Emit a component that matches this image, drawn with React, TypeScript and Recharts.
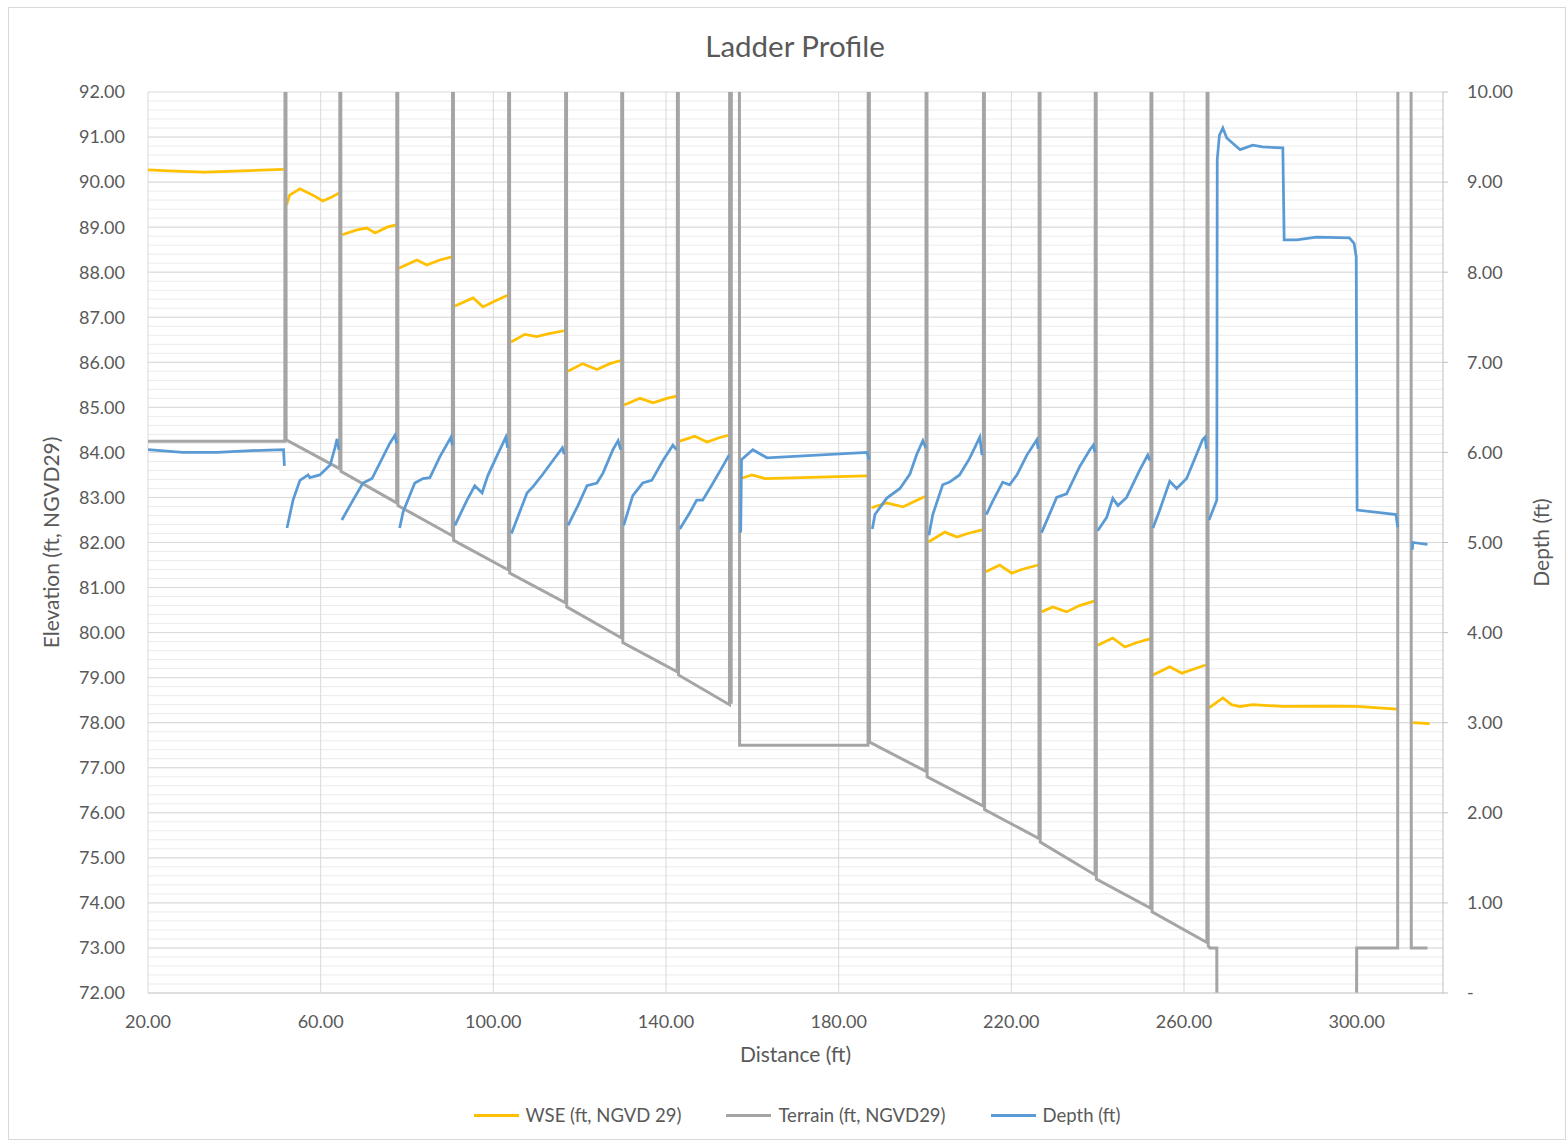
import { LineChart, Line, XAxis, YAxis, CartesianGrid } from 'recharts'

const FONT = 'Lato, "Liberation Sans", sans-serif'
const TEXT = '#595959'

const xTicks = [20, 60, 100, 140, 180, 220, 260, 300]
const elevTicks = [72, 73, 74, 75, 76, 77, 78, 79, 80, 81, 82, 83, 84, 85, 86, 87, 88, 89, 90, 91, 92]
const depthTicks = [0, 1, 2, 3, 4, 5, 6, 7, 8, 9, 10]

const seriesNames = ['WSE (ft, NGVD 29)', 'Terrain (ft, NGVD29)', 'Depth (ft)']
const seriesColors = ['#ffc000', '#a5a5a5', '#5b9bd5']

// [distance, elevation]; weir walls run off the top of the axis
const terrainPts: [number, number][] = [
  [20, 84.25], [51.7, 84.25], [51.75, 95], [51.95, 95], [52.0, 84.28],
  [64.4, 83.64], [64.45, 95], [64.65, 95], [64.7, 83.58],
  [77.6, 82.88], [77.65, 95], [77.85, 95], [77.9, 82.82],
  [90.5, 82.15], [90.55, 95], [90.75, 95], [90.8, 82.05],
  [103.5, 81.39], [103.55, 95], [103.75, 95], [103.8, 81.32],
  [116.7, 80.66], [116.75, 95], [116.95, 95], [117.0, 80.57],
  [129.7, 79.88], [129.75, 95], [129.95, 95], [130.0, 79.78],
  [142.6, 79.13], [142.65, 95], [142.85, 95], [142.9, 79.06],
  [154.7, 78.4], [154.75, 95], [155.05, 95], [155.1, 78.42], [155.15, 95], [157.0, 95], [157.05, 77.5],
  [186.8, 77.5], [186.85, 95], [187.1, 95], [187.15, 77.57],
  [200.2, 76.92], [200.25, 95], [200.45, 95], [200.5, 76.8],
  [213.5, 76.15], [213.55, 95], [213.75, 95], [213.8, 76.07],
  [226.4, 75.43], [226.45, 95], [226.65, 95], [226.7, 75.35],
  [239.4, 74.62], [239.45, 95], [239.65, 95], [239.7, 74.53],
  [252.3, 73.88], [252.35, 95], [252.55, 95], [252.6, 73.8],
  [265.3, 73.12], [265.35, 95], [265.55, 95], [265.6, 73.05],
  [266.0, 73.0], [267.6, 73.0], [267.65, 69.0], [299.95, 69.0], [300.0, 73.0],
  [309.5, 73.0], [309.55, 95], [312.6, 95], [312.65, 73.0], [316.4, 73.0],
]

const wsePts: [number, number | null][] = [
  [20, 90.27], [25, 90.25], [33, 90.22], [42, 90.25], [51.4, 90.28], [51.7, null],
  [52.1, 89.49], [52.8, 89.71], [55.2, 89.85], [58.2, 89.71], [60.5, 89.58], [62.6, 89.67], [64.3, 89.76], [64.6, null],
  [65.0, 88.83], [68.4, 88.94], [70.7, 88.98], [72.6, 88.87], [75.4, 89.0], [77.4, 89.05], [77.7, null],
  [78.1, 88.09], [82.3, 88.27], [84.6, 88.16], [87.6, 88.27], [90.4, 88.34], [90.7, null],
  [91.1, 87.25], [95.3, 87.43], [97.6, 87.23], [99.9, 87.34], [103.3, 87.49], [103.6, null],
  [104.1, 86.45], [107.3, 86.62], [110.1, 86.57], [112.6, 86.63], [116.4, 86.7], [116.8, null],
  [117.3, 85.8], [120.7, 85.97], [124.0, 85.84], [127.0, 85.97], [129.5, 86.04], [129.8, null],
  [130.3, 85.05], [134.0, 85.2], [137.0, 85.1], [140.2, 85.2], [142.4, 85.25], [142.7, null],
  [143.2, 84.25], [146.7, 84.36], [149.5, 84.23], [152.5, 84.33], [154.5, 84.38], [155.5, null],
  [157.3, 83.42], [159.9, 83.5], [162.9, 83.42], [175.6, 83.45], [186.6, 83.48], [187.0, null],
  [187.6, 82.77], [191.1, 82.88], [194.9, 82.79], [196.9, 82.88], [200.0, 83.02], [200.4, null],
  [200.8, 82.01], [204.6, 82.23], [207.4, 82.12], [209.9, 82.2], [213.2, 82.28], [213.6, null],
  [214.1, 81.35], [217.3, 81.5], [220.1, 81.32], [222.4, 81.4], [226.2, 81.5], [226.5, null],
  [227.0, 80.46], [229.6, 80.57], [232.8, 80.46], [235.8, 80.6], [239.2, 80.7], [239.5, null],
  [240.0, 79.72], [243.5, 79.88], [246.3, 79.68], [249.1, 79.78], [252.1, 79.86], [252.4, null],
  [252.8, 79.06], [256.7, 79.24], [259.5, 79.1], [262.0, 79.18], [265.0, 79.28], [265.4, null],
  [265.8, 78.33], [269.0, 78.55], [271.0, 78.4], [273.0, 78.36], [275.9, 78.4], [282.9, 78.36],
  [294.4, 78.37], [300.0, 78.36], [309.4, 78.3], [310.0, null],
  [313.0, 78.0], [316.9, 77.98],
]

const depthPts: [number, number | null][] = [
  [20, 6.03], [28, 6.0], [36, 6.0], [44, 6.02], [51.4, 6.03], [51.6, 5.85], [51.8, null],
  [52.2, 5.16], [53.6, 5.47], [55.2, 5.69], [57.1, 5.75], [57.5, 5.72], [59.8, 5.75], [62.2, 5.86], [63.3, 6.05], [63.8, 6.15], [64.2, 6.03], [64.5, null],
  [64.9, 5.25], [67.5, 5.47], [69.8, 5.66], [71.9, 5.71], [73.7, 5.88], [76.0, 6.1], [77.2, 6.19], [77.6, 6.1], [77.8, null],
  [78.3, 5.16], [79.1, 5.34], [81.8, 5.66], [83.7, 5.71], [85.3, 5.72], [87.6, 5.95], [90.2, 6.17], [90.5, 6.08], [90.7, null],
  [91.1, 5.19], [93.9, 5.47], [95.7, 5.63], [97.4, 5.55], [98.7, 5.74], [101.1, 5.99], [102.9, 6.17], [103.3, 6.05], [103.6, null],
  [104.2, 5.1], [107.8, 5.55], [109.2, 5.62], [111.5, 5.76], [113.8, 5.91], [116.0, 6.05], [116.4, 5.98], [116.8, null],
  [117.3, 5.19], [119.6, 5.41], [121.7, 5.63], [124.0, 5.66], [125.4, 5.77], [127.7, 6.03], [128.9, 6.13], [129.5, 6.03], [129.8, null],
  [130.2, 5.19], [132.3, 5.52], [134.6, 5.66], [136.7, 5.69], [139.3, 5.91], [141.6, 6.08], [142.4, 6.03], [142.7, null],
  [143.2, 5.15], [145.5, 5.33], [147.1, 5.47], [148.5, 5.47], [150.9, 5.66], [153.2, 5.85], [154.6, 5.97], [155.5, null],
  [157.3, 5.11], [157.5, 5.92], [160.1, 6.03], [163.4, 5.94], [186.6, 6.0], [187.0, 5.92], [187.2, null],
  [187.8, 5.15], [188.4, 5.31], [191.1, 5.49], [194.2, 5.6], [196.5, 5.76], [198.1, 5.98], [199.5, 6.13], [200.2, 6.05], [200.4, null],
  [200.9, 5.08], [201.8, 5.31], [204.1, 5.64], [205.7, 5.67], [208.0, 5.75], [210.3, 5.93], [212.7, 6.17], [213.2, 5.97], [213.6, null],
  [214.2, 5.31], [215.7, 5.46], [218.0, 5.67], [219.6, 5.64], [221.3, 5.75], [223.6, 5.97], [225.9, 6.14], [226.2, 6.04], [226.5, null],
  [227.0, 5.11], [228.9, 5.32], [230.5, 5.5], [232.8, 5.54], [235.8, 5.84], [238.2, 6.03], [239.0, 6.08], [239.4, 6.0], [239.6, null],
  [240.0, 5.13], [242.1, 5.28], [243.5, 5.49], [244.7, 5.41], [246.7, 5.5], [249.7, 5.8], [251.6, 5.97], [252.1, 5.91], [252.4, null],
  [252.8, 5.16], [254.3, 5.35], [256.7, 5.68], [258.3, 5.6], [260.6, 5.71], [264.3, 6.14], [264.9, 6.17], [265.2, 6.04], [265.4, null],
  [265.8, 5.25], [267.6, 5.47], [267.7, 9.25], [268.2, 9.52], [269.0, 9.6], [269.9, 9.49], [273.0, 9.36], [275.9, 9.41],
  [278.2, 9.39], [282.9, 9.38], [283.2, 8.36], [286.1, 8.36], [290.7, 8.39], [298.3, 8.38], [299.4, 8.32], [299.9, 8.17],
  [300.1, 5.36], [305.8, 5.33], [309.1, 5.31], [309.5, 5.17], [310.0, null],
  [312.9, 4.92], [313.0, 5.0], [316.4, 4.98],
]

const terrainData = terrainPts.map(([x, y]) => ({ x, y }))
const wseData = wsePts.map(([x, y]) => ({ x, y }))
const depthData = depthPts.map(([x, y]) => ({ x, y }))

const minorElev: number[] = []
for (let v = 72.2; v < 92; v += 0.2) minorElev.push(Math.round(v * 10) / 10)

const tickStyle = { fill: TEXT, fontSize: 18, fontFamily: FONT }
const titleStyle = { fill: TEXT, fontSize: 21, fontFamily: FONT }

export default function App() {
  return (
    <div style={{ position: 'absolute', left: 0, top: 0, width: 1568, height: 1144, background: '#fff' }}>
      <div style={{ position: 'absolute', left: 8, top: 7, width: 1558, height: 1133, border: '1px solid #d9d9d9', boxSizing: 'border-box' }} />
      <div style={{ position: 'absolute', left: 495, top: 27, width: 600, textAlign: 'center', fontFamily: FONT, fontSize: 29.5, lineHeight: '38px', color: TEXT }}>
        Ladder Profile
      </div>
      <div style={{ position: 'absolute', left: 0, top: 0 }}>
        <LineChart width={1568} height={1144} data={terrainData} margin={{ top: 92, right: 0, bottom: 71, left: 0 }}>
          <CartesianGrid yAxisId="elev" horizontalValues={minorElev} vertical={false} stroke="#ebebeb" strokeWidth={1} />
          <CartesianGrid yAxisId="elev" horizontalValues={elevTicks} verticalValues={xTicks} stroke="#d9d9d9" strokeWidth={1} />
          <XAxis
            dataKey="x"
            type="number"
            domain={[20, 320]}
            ticks={xTicks}
            allowDataOverflow
            tickFormatter={(v: number) => v.toFixed(2)}
            tick={tickStyle}
            tickLine={false}
            tickMargin={16}
            axisLine={{ stroke: '#d0d0d0' }}
            height={80}
            label={{ value: 'Distance (ft)', position: 'center', dy: 22, style: titleStyle }}
          />
          <YAxis
            yAxisId="elev"
            type="number"
            domain={[72, 92]}
            ticks={elevTicks}
            allowDataOverflow
            interval={0}
            tickFormatter={(v: number) => v.toFixed(2)}
            tick={tickStyle}
            tickLine={false}
            tickMargin={17}
            axisLine={false}
            width={148}
            label={{ value: 'Elevation (ft, NGVD29)', angle: -90, position: 'center', dx: -22, style: titleStyle }}
          />
          <YAxis
            yAxisId="depth"
            orientation="right"
            type="number"
            domain={[0, 10]}
            ticks={depthTicks}
            allowDataOverflow
            interval={0}
            tickFormatter={(v: number) => (v === 0 ? '-' : v.toFixed(2))}
            tick={tickStyle}
            tickSize={5}
            tickMargin={19}
            tickLine={{ stroke: '#bfbfbf' }}
            axisLine={{ stroke: '#bfbfbf' }}
            width={125}
            label={{ value: 'Depth (ft)', angle: -90, position: 'center', dx: 36, style: titleStyle }}
          />
          <Line
            yAxisId="elev"
            data={wseData}
            dataKey="y"
            type="linear"
            stroke={seriesColors[0]}
            strokeWidth={2.75}
            dot={false}
            isAnimationActive={false}
            name={seriesNames[0]}
          />
          <Line
            yAxisId="elev"
            data={terrainData}
            dataKey="y"
            type="linear"
            stroke={seriesColors[1]}
            strokeWidth={3}
            dot={false}
            isAnimationActive={false}
            name={seriesNames[1]}
          />
          <Line
            yAxisId="depth"
            data={depthData}
            dataKey="y"
            type="linear"
            stroke={seriesColors[2]}
            strokeWidth={2.75}
            dot={false}
            isAnimationActive={false}
            name={seriesNames[2]}
          />
        </LineChart>
      </div>
      <div style={{ position: 'absolute', left: 0, top: 1103, width: 1594, display: 'flex', justifyContent: 'center', gap: 45, fontFamily: FONT, fontSize: 18.5, lineHeight: '24px', color: TEXT }}>
        {seriesNames.map((name, i) => (
          <span key={name} style={{ display: 'flex', alignItems: 'center' }}>
            <span style={{ display: 'inline-block', width: 45, height: 3, background: seriesColors[i], marginRight: 7 }} />
            {name}
          </span>
        ))}
      </div>
    </div>
  )
}
